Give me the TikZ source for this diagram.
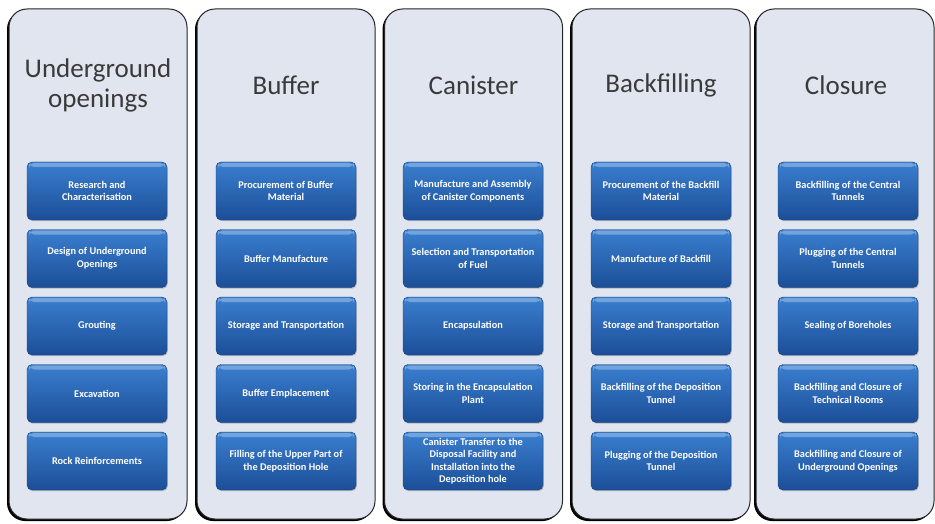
\documentclass[tikz,border=0pt]{standalone}
\usepackage{fontspec}
\setmainfont{Carlito}
\usetikzlibrary{shadows}

\definecolor{colfill}{HTML}{E1E5F0}
\definecolor{tasktop}{HTML}{3A7FD0}
\definecolor{taskbot}{HTML}{1C4E97}
\definecolor{taskline}{HTML}{173F7C}
\definecolor{titlegray}{HTML}{3A3A3A}

\tikzset{
  column/.style={draw=black!85, line width=1pt, rounded corners=18pt, fill=colfill,
    minimum width=178pt, minimum height=510pt,
    drop shadow={shadow xshift=-2pt, shadow yshift=-2pt, opacity=1, fill=black}},
  title/.style={font=\fontsize{27}{30}\selectfont, text=titlegray, align=center},
  task/.style={rounded corners=5pt, top color=tasktop, bottom color=taskbot,
    draw=taskline, line width=0.4pt, minimum width=140pt, minimum height=58pt,
    inner xsep=1pt, align=center, text=white,
    font=\bfseries\fontsize{10.3}{12.5}\selectfont,
    drop shadow={shadow xshift=0.8pt, shadow yshift=-1.2pt, opacity=0.45},
    path picture={\fill[white, opacity=0.3]
      ([xshift=2pt,yshift=-1pt]path picture bounding box.north west) rectangle
      ([xshift=-2pt,yshift=-5pt]path picture bounding box.north east);}},
}

\begin{document}
\begin{tikzpicture}[x=1pt, y=-1pt]
  \useasboundingbox (0,0) rectangle (935,524);

  % columns
  \foreach \cx/\name in {98/col1, 286/col2, 473.5/col3, 661/col4, 845/col5}
    \node[column] (\name) at (\cx,264) {};

  % titles
  \node[title] (t1) at (98,85) {Underground\\openings};
  \node[title] (t2) at (286,85) {Buffer};
  \node[title] (t3) at (473.5,85) {Canister};
  \node[title] (t4) at (661,85) {Backfilling};
  \node[title] (t5) at (846,85) {Closure};

  % tasks
  \foreach \t [count=\i] in {{Research and\\Characterisation},
      {Design of Underground\\Openings}, {Grouting}, {Excavation},
      {Rock Reinforcements}}
    \node[task] (a\i) at (97,123.5+67.5*\i) {\t};
  \foreach \t [count=\i] in {{Procurement of Buffer\\Material},
      {Buffer Manufacture}, {Storage and Transportation},
      {Buffer Emplacement}, {Filling of the Upper Part of\\the Deposition Hole}}
    \node[task] (b\i) at (286,123.5+67.5*\i) {\t};
  \foreach \t [count=\i] in {{Manufacture and Assembly\\of Canister Components},
      {Selection and Transportation\\of Fuel}, {Encapsulation},
      {Storing in the Encapsulation\\Plant},
      {Canister Transfer to the\\Disposal Facility and\\Installation into the\\Deposition hole}}
    \node[task] (c\i) at (473,123.5+67.5*\i) {\t};
  \foreach \t [count=\i] in {{Procurement of the Backfill\\Material},
      {Manufacture of Backfill}, {Storage and Transportation},
      {Backfilling of the Deposition\\Tunnel}, {Plugging of the Deposition\\Tunnel}}
    \node[task] (d\i) at (661,123.5+67.5*\i) {\t};
  \foreach \t [count=\i] in {{Backfilling of the Central\\Tunnels},
      {Plugging of the Central\\Tunnels}, {Sealing of Boreholes},
      {Backfilling and Closure of\\Technical Rooms},
      {Backfilling and Closure of\\Underground Openings}}
    \node[task] (e\i) at (848,123.5+67.5*\i) {\t};
\end{tikzpicture}
\end{document}
